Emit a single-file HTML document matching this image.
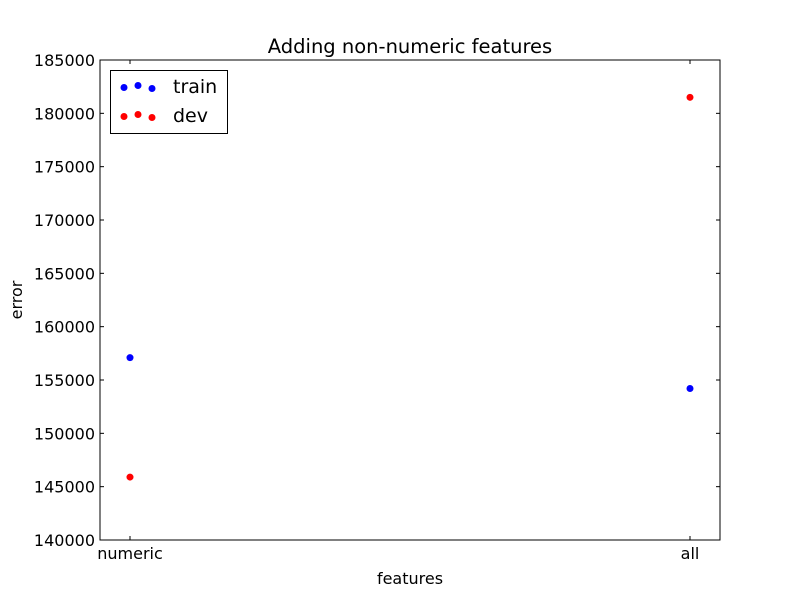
<!DOCTYPE html>
<html><head><meta charset="utf-8"><style>
body{margin:0;background:#fff;}
svg{display:block;font-family:"DejaVu Sans","Liberation Sans",sans-serif;}
</style></head><body>
<svg id="chart" width="800" height="600">
<rect width="800" height="600" fill="#fff"/>
<text x="410" y="53" font-size="19.5" text-anchor="middle">Adding non-numeric features</text>
<text x="410" y="584" font-size="16" text-anchor="middle">features</text>
<text x="22" y="300" font-size="16" text-anchor="middle" transform="rotate(-90 22 300)">error</text>
<g id="ticks"></g>
<g id="marks"></g>
<rect x="100" y="60" width="620" height="480" fill="none" stroke="#000" stroke-width="1"/>
<g>
<rect x="110.5" y="70.5" width="117" height="63" fill="#fff" stroke="#000"/>
<g>
<circle cx="124" cy="87.5" r="3.5" fill="#0000ff"/><circle cx="138" cy="85.5" r="3.5" fill="#0000ff"/><circle cx="152" cy="88.5" r="3.5" fill="#0000ff"/>
<text x="173" y="93" font-size="19">train</text></g>
<g>
<circle cx="124" cy="116.5" r="3.5" fill="#ff0000"/><circle cx="138" cy="114.5" r="3.5" fill="#ff0000"/><circle cx="152" cy="117.5" r="3.5" fill="#ff0000"/>
<text x="173" y="122" font-size="19">dev</text></g>
</g>
</svg>
<script>
const categories = ["numeric", "all"];
const trainValues = [157100, 154200];
const devValues = [145900, 181500];
const yTicks = [140000,145000,150000,155000,160000,165000,170000,175000,180000,185000];
const NS="http://www.w3.org/2000/svg";
const x0=100,x1=720,y0=540,y1=60,ymin=140000,ymax=185000;
function xs(i){return 130+i*560/(categories.length-1||1);}
function ys(v){return y0-(v-ymin)/(ymax-ymin)*(y0-y1);}
const tg=document.getElementById('ticks'), mg=document.getElementById('marks');
function mk(tag,attrs,parent){const e=document.createElementNS(NS,tag);for(const k in attrs)e.setAttribute(k,attrs[k]);parent.appendChild(e);return e;}
yTicks.forEach(v=>{
  const y=ys(v);
  const l=mk('line',{x1:100,x2:104,y1:y,y2:y,stroke:'#000'},tg);
  
  
  const r=mk('line',{x1:716,x2:720,y1:y,y2:y,stroke:'#000'},tg);
  
  
  const t=mk('text',{x:95,y:y+6,'font-size':16,'text-anchor':'end'},tg);
  t.textContent=v;
  
  
});
categories.forEach((c,i)=>{
  const x=xs(i);
  const l=mk('line',{x1:x,x2:x,y1:540,y2:536,stroke:'#000'},tg);
  
  
  const l2=mk('line',{x1:x,x2:x,y1:60,y2:64,stroke:'#000'},tg);
  
  
  const t=mk('text',{x:x,y:559,'font-size':16,'text-anchor':'middle'},tg);
  t.textContent=c;
  
  
});
trainValues.forEach((v,i)=>{
  const p=mk('circle',{cx:xs(i),cy:ys(v),r:3.5,fill:'#0000ff'},mg);
  
  
});
devValues.forEach((v,i)=>{
  const p=mk('circle',{cx:xs(i),cy:ys(v),r:3.5,fill:'#ff0000'},mg);
  
  
});
</script>
</body></html>
